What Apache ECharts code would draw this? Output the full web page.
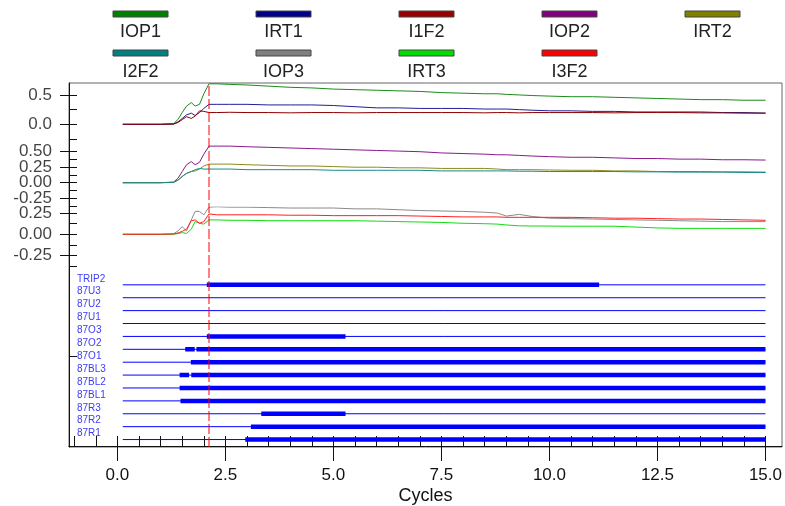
<!DOCTYPE html>
<html>
<head>
<meta charset="utf-8">
<script src="https://cdn.jsdelivr.net/npm/echarts@6/dist/echarts.min.js"></script>
<style>
  html, body { margin: 0; padding: 0; background: #ffffff; }
  #chart { width: 785px; height: 506px; }
</style>
</head>
<body>
<div id="chart"></div>
<script>
// ---- sample times (cycles) ----
const time = [0.125, 1.0, 1.3, 1.4, 1.5, 1.6, 1.71, 1.8, 1.9, 2.0, 2.12, 2.3, 2.6, 3.0, 3.5, 4.0, 4.5, 5.0, 5.5, 6.0,
              6.5, 7.0, 7.5, 8.0, 8.5, 8.8, 9.0, 9.3, 9.6, 10.0, 10.5, 11.0, 11.5, 12.0, 12.5, 13.0, 13.5, 14.0, 14.5, 15.0];

// ---- analog channels, group 1 ----
const IOP1 = [0, 0, 0.01, 0.08, 0.2, 0.31, 0.37, 0.31, 0.34, 0.52, 0.69, 0.69, 0.68, 0.67, 0.65, 0.63, 0.62, 0.60, 0.59, 0.58,
              0.57, 0.56, 0.54, 0.53, 0.52, 0.52, 0.51, 0.50, 0.49, 0.48, 0.47, 0.47, 0.46, 0.45, 0.44, 0.43, 0.42, 0.42, 0.41, 0.41];
const IRT1 = [0, 0, 0.005, 0.04, 0.1, 0.16, 0.19, 0.15, 0.2, 0.27, 0.34, 0.34, 0.34, 0.34, 0.33, 0.33, 0.33, 0.32, 0.30, 0.28,
              0.28, 0.27, 0.27, 0.27, 0.26, 0.26, 0.26, 0.25, 0.24, 0.23, 0.23, 0.22, 0.22, 0.21, 0.21, 0.21, 0.21, 0.20, 0.20, 0.19];
const I1F2 = [0, 0, 0.005, 0.03, 0.08, 0.13, 0.10, 0.14, 0.23, 0.22, 0.20, 0.20, 0.205, 0.20, 0.20, 0.195, 0.20, 0.20, 0.195, 0.20,
              0.20, 0.20, 0.20, 0.20, 0.195, 0.20, 0.20, 0.195, 0.20, 0.20, 0.20, 0.20, 0.195, 0.20, 0.20, 0.20, 0.195, 0.195, 0.19, 0.19];

// ---- analog channels, group 2 ----
const IOP2 = [0, 0, 0.01, 0.07, 0.18, 0.29, 0.34, 0.29, 0.33, 0.46, 0.59, 0.59, 0.59, 0.58, 0.57, 0.56, 0.55, 0.54, 0.53, 0.52,
              0.51, 0.50, 0.48, 0.47, 0.46, 0.45, 0.45, 0.44, 0.43, 0.42, 0.41, 0.41, 0.40, 0.39, 0.39, 0.38, 0.38, 0.37, 0.37, 0.365];
const IRT2 = [0, 0, 0.005, 0.04, 0.1, 0.15, 0.18, 0.19, 0.22, 0.27, 0.30, 0.30, 0.30, 0.29, 0.28, 0.27, 0.27, 0.26, 0.25, 0.25,
              0.24, 0.24, 0.23, 0.23, 0.23, 0.22, 0.21, 0.21, 0.21, 0.205, 0.20, 0.20, 0.19, 0.19, 0.18, 0.18, 0.18, 0.175, 0.175, 0.17];
const I2F2 = [0, 0, 0.005, 0.04, 0.1, 0.15, 0.18, 0.21, 0.23, 0.22, 0.22, 0.22, 0.22, 0.21, 0.21, 0.21, 0.21, 0.20, 0.20, 0.20,
              0.20, 0.20, 0.19, 0.19, 0.19, 0.19, 0.19, 0.185, 0.185, 0.18, 0.18, 0.18, 0.18, 0.175, 0.175, 0.17, 0.17, 0.17, 0.165, 0.165];

// ---- analog channels, group 3 ----
const IOP3 = [0, 0, 0.005, 0.04, 0.09, 0.04, 0.17, 0.27, 0.27, 0.23, 0.32, 0.325, 0.32, 0.32, 0.315, 0.31, 0.31, 0.31, 0.30, 0.30,
              0.29, 0.28, 0.275, 0.27, 0.26, 0.25, 0.215, 0.235, 0.21, 0.19, 0.185, 0.18, 0.175, 0.17, 0.165, 0.16, 0.155, 0.15, 0.15, 0.15];
const IRT3 = [0, 0, 0.002, 0.008, 0.02, 0.01, 0.06, 0.15, 0.13, 0.12, 0.17, 0.17, 0.165, 0.165, 0.16, 0.16, 0.16, 0.16, 0.16, 0.155,
              0.15, 0.145, 0.14, 0.13, 0.125, 0.12, 0.11, 0.10, 0.098, 0.097, 0.095, 0.095, 0.095, 0.085, 0.075, 0.07, 0.07, 0.07, 0.07, 0.07];
const I3F2 = [0, 0, 0.003, 0.015, 0.035, 0.06, 0.16, 0.17, 0.13, 0.15, 0.24, 0.23, 0.23, 0.23, 0.23, 0.225, 0.225, 0.22, 0.22, 0.22,
              0.22, 0.215, 0.21, 0.205, 0.205, 0.205, 0.20, 0.20, 0.20, 0.20, 0.20, 0.195, 0.19, 0.19, 0.185, 0.18, 0.18, 0.175, 0.17, 0.165];

// ---- legend order ----
const legendNames = ['IOP1', 'IRT1', 'I1F2', 'IOP2', 'IRT2', 'I2F2', 'IOP3', 'IRT3', 'I3F2'];

// ---- digital channels (top to bottom) and their asserted intervals (cycles) ----
const channelNames = ['TRIP2', '87U3', '87U2', '87U1', '87O3', '87O2', '87O1', '87BL3', '87BL2', '87BL1', '87R3', '87R2', '87R1'];
const channelOn = [
  [[2.07, 11.15]],
  [],
  [],
  [],
  [[2.07, 5.28]],
  [[1.57, 1.79], [1.83, 15.0]],
  [[1.70, 15.0]],
  [[1.44, 1.66], [1.71, 15.0]],
  [[1.44, 15.0]],
  [[1.46, 15.0]],
  [[3.33, 5.28]],
  [[3.09, 15.0]],
  [[2.96, 15.0]]
];
const recordStart = 0.125;
const recordEnd = 15.0;
const triggerTime = 2.12;

// ---- axis ticks ----
const xLabelTicks = [0, 2.5, 5, 7.5, 10, 12.5, 15];
const xMinorTicks = [-1, -0.5, 0, 0.5, 1, 1.5, 2, 2.5, 3, 3.5, 4, 4.5, 5, 5.5, 6, 6.5, 7, 7.5, 8, 8.5, 9, 9.5, 10,
                     10.5, 11, 11.5, 12, 12.5, 13, 13.5, 14, 14.5, 15];
const p1Labels = [0, 0.5];
const p1Ticks = [-0.25, 0, 0.25, 0.5];
const p2Labels = [-0.25, 0, 0.25, 0.5];
const p2Ticks = [-0.375, -0.25, -0.125, 0, 0.125, 0.25, 0.375, 0.5];
const p3Labels = [-0.25, 0, 0.25];
const p3Ticks = [-0.375, -0.25, -0.125, 0, 0.125, 0.25];

// ---- styling ----
const FONT = 'Liberation Sans, Arial, sans-serif';
const lineColors = {
  IOP1: '#1a8a1a', IRT1: '#1f1f9a', I1F2: '#8b0000',
  IOP2: '#8a1a8a', IRT2: '#8c8c1a', I2F2: '#1a8a8a',
  IOP3: '#8a8a8a', IRT3: '#10dd10', I3F2: '#ff2020'
};
const legendColors = {
  IOP1: '#008000', IRT1: '#00008b', I1F2: '#990000',
  IOP2: '#800080', IRT2: '#808000', I2F2: '#008080',
  IOP3: '#808080', IRT3: '#00dd00', I3F2: '#ff0000'
};
const seriesData = { IOP1, IRT1, I1F2, IOP2, IRT2, I2F2, IOP3, IRT3, I3F2 };
const panelOf = { IOP1: 0, IRT1: 0, I1F2: 0, IOP2: 1, IRT2: 1, I2F2: 1, IOP3: 2, IRT3: 2, I3F2: 2 };

const X_MIN = -1.12, X_MAX = 15.38;
const LEFT = 69, WIDTH = 713;

const grids = [];
const xAxes = [];
const yAxes = [];
const series = [];

// every grid gets one x axis sharing the time range
function addGrid(rect, xOpt) {
  grids.push(Object.assign({ left: LEFT, width: WIDTH }, rect));
  const gi = grids.length - 1;
  xAxes.push(Object.assign({ type: 'value', gridIndex: gi, min: X_MIN, max: X_MAX, show: false }, xOpt || {}));
  return gi;
}

// outer frame with the left axis line
const frameGrid = addGrid({ top: 83, height: 364, show: true, borderColor: '#666', borderWidth: 1 });
yAxes.push({ type: 'value', gridIndex: frameGrid, min: 0, max: 1, position: 'left',
  axisLine: { show: true, onZero: false, lineStyle: { color: '#111', width: 1 } },
  axisTick: { show: false }, axisLabel: { show: false }, splitLine: { show: false } });
const frameAxis = yAxes.length - 1;

// analog groups
const panels = [
  { rect: { top: 83, height: 60 },    range: [-0.3186, 0.7036], labels: p1Labels, ticks: p1Ticks, digits: 1 },
  { rect: { top: 145, height: 62 },   range: [-0.392, 0.608],   labels: p2Labels, ticks: p2Ticks, digits: 2 },
  { rect: { top: 207, height: 59.5 }, range: [-0.38, 0.322],    labels: p3Labels, ticks: p3Ticks, digits: 2 }
];
panels.forEach(p => {
  p.grid = addGrid(p.rect);
  p.xIndex = p.grid;
  // short ticks inside the frame at every step
  yAxes.push({
    type: 'value', gridIndex: p.grid, min: p.range[0], max: p.range[1], position: 'left',
    axisLine: { show: false, onZero: false },
    axisTick: { show: true, inside: true, length: 8, customValues: p.ticks, lineStyle: { color: '#111' } },
    axisLabel: { show: false }, splitLine: { show: false }
  });
  p.yIndex = yAxes.length - 1;
  // longer ticks outside the frame at labelled values
  yAxes.push({
    type: 'value', gridIndex: p.grid, min: p.range[0], max: p.range[1], position: 'left',
    axisLine: { show: false, onZero: false },
    axisTick: { show: true, inside: false, length: 9, customValues: p.labels, lineStyle: { color: '#111' } },
    axisLabel: { show: false }, splitLine: { show: false }
  });
  // tick labels, placed at the left edge of the group through its own scales
  series.push({
    name: 'scale ' + p.grid, type: 'scatter', xAxisIndex: p.xIndex, yAxisIndex: p.yIndex,
    data: p.labels.map(v => [X_MIN, v]),
    symbolSize: 0, silent: true, animation: false, clip: false, z: 6,
    label: { show: true, position: 'left', distance: 17, fontSize: 17, fontFamily: FONT, color: '#111',
             formatter: prm => Number(prm.value[1]).toFixed(p.digits) }
  });
});

// digital rows
const digitalGrid = addGrid({ top: 265.5, height: 182 }, {
  show: true, position: 'bottom',
  axisLine: { show: true, onZero: false, lineStyle: { color: '#111', width: 1 } },
  axisTick: { show: true, inside: true, length: 10, customValues: xMinorTicks, lineStyle: { color: '#111' } },
  axisLabel: { show: false }, splitLine: { show: false }
});
xAxes.push({
  type: 'value', gridIndex: digitalGrid, min: X_MIN, max: X_MAX, position: 'bottom',
  axisLine: { show: false, onZero: false },
  axisTick: { show: true, inside: false, length: 15, customValues: xLabelTicks, lineStyle: { color: '#111' } },
  axisLabel: { show: true, customValues: xLabelTicks, margin: 21, fontSize: 17, fontFamily: FONT, color: '#111',
               showMinLabel: true, showMaxLabel: true,
               formatter: v => Number(v).toFixed(1) },
  splitLine: { show: false },
  name: 'Cycles', nameLocation: 'middle', nameGap: 41,
  nameTextStyle: { fontSize: 18, fontFamily: FONT, color: '#111' }
});
yAxes.push({ // level 13 = first channel name, level 1 = last
  type: 'value', gridIndex: digitalGrid, min: 0.5, max: 14.5, position: 'left',
  axisLine: { show: false, onZero: false },
  axisTick: { show: true, inside: true, length: 8, customValues: [7.5], lineStyle: { color: '#111' } },
  axisLabel: {
    show: true, inside: true, margin: 8,
    showMinLabel: true, showMaxLabel: true,
    customValues: channelNames.map((_, i) => channelNames.length - i),
    formatter: v => channelNames[channelNames.length - Math.round(v)],
    fontSize: 10, fontFamily: FONT, color: '#3c3cf5', verticalAlign: 'bottom', lineHeight: 12
  },
  splitLine: { show: false }
});
const digitalAxis = yAxes.length - 1;

// analog traces
legendNames.forEach(name => {
  const p = panels[panelOf[name]];
  series.push({
    name, type: 'line', xAxisIndex: p.xIndex, yAxisIndex: p.yIndex,
    data: time.map((t, i) => [t, seriesData[name][i]]),
    showSymbol: false, symbol: 'none', silent: true, animation: false,
    lineStyle: { color: lineColors[name], width: 1 }, z: 3
  });
});

// digital channel rows
channelNames.forEach((ch, i) => {
  const level = channelNames.length - i;
  series.push({
    name: ch + ' base', type: 'line', xAxisIndex: digitalGrid, yAxisIndex: digitalAxis,
    data: [[recordStart, level], [recordEnd, level]],
    symbol: 'none', silent: true, animation: false,
    lineStyle: { color: '#0000ff', width: 1 }, z: 3
  });
  channelOn[i].forEach(([a, b], k) => {
    series.push({
      name: ch + ' on ' + k, type: 'line', xAxisIndex: digitalGrid, yAxisIndex: digitalAxis,
      data: [[a, level], [b, level]],
      symbol: 'none', silent: true, animation: false,
      lineStyle: { color: '#0000ff', width: 4.5, cap: 'butt' }, z: 4
    });
  });
});

// trigger marker
series.push({
  name: 'trigger', type: 'line', xAxisIndex: frameGrid, yAxisIndex: frameAxis,
  data: [[triggerTime, 0], [triggerTime, 1]],
  symbol: 'none', silent: true, animation: false,
  lineStyle: { color: '#ff0000', width: 1, type: [10, 3] }, z: 10
});

// legend: swatch above the name, five per row
const graphic = legendNames.map((name, i) => {
  const col = i % 5, row = Math.floor(i / 5);
  const cx = 140.5 + col * 143;
  return {
    type: 'group', silent: true,
    children: [
      { type: 'rect', shape: { x: cx - 27.5, y: 11 + row * 39, width: 55, height: 6 },
        style: { fill: legendColors[name], stroke: '#444', lineWidth: 1 } },
      { type: 'text', style: { text: name, x: cx, y: 32 + row * 40, align: 'center', verticalAlign: 'middle',
        fontSize: 18, fontFamily: FONT, fill: '#222' } }
    ]
  };
});

const chart = echarts.init(document.getElementById('chart'), null, { renderer: 'canvas' });
chart.setOption({
  backgroundColor: '#ffffff',
  animation: false,
  grid: grids,
  xAxis: xAxes,
  yAxis: yAxes,
  series,
  graphic
});
</script>
</body>
</html>
